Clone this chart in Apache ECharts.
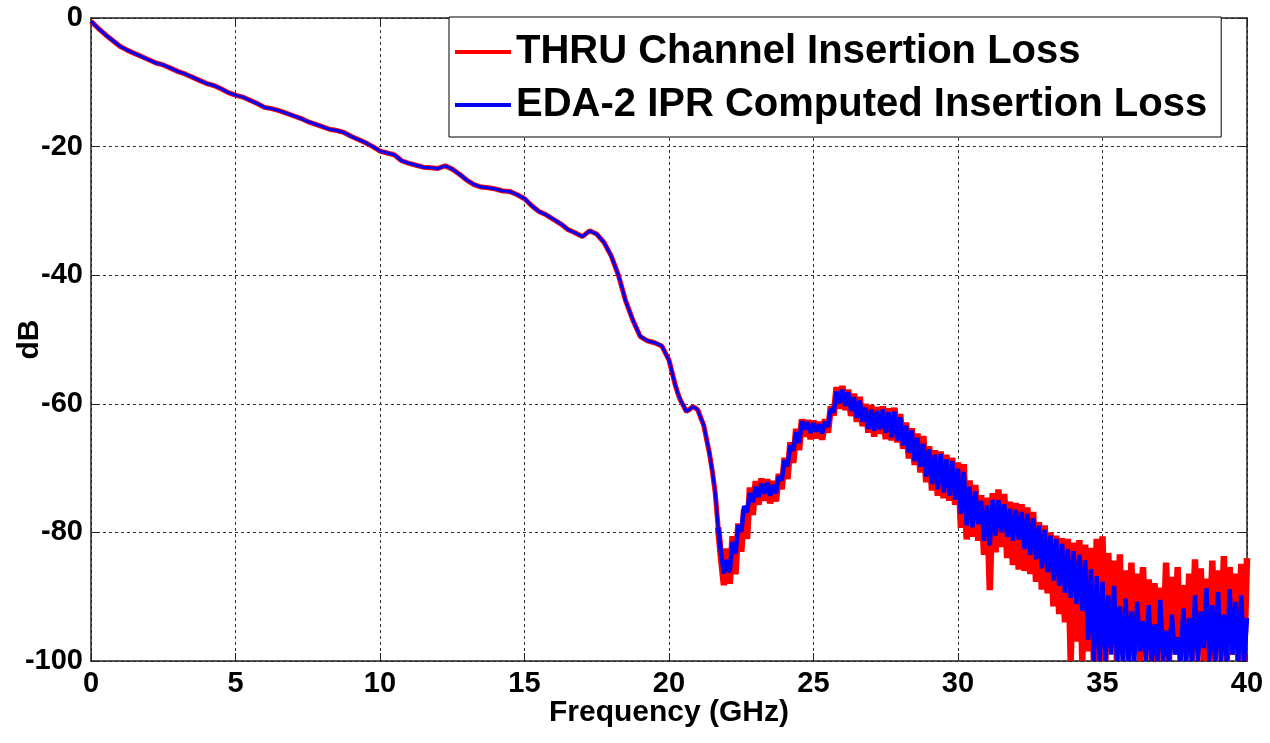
<!DOCTYPE html>
<html>
<head>
<meta charset="utf-8">
<script src="https://cdn.jsdelivr.net/npm/echarts@6/dist/echarts.min.js"></script>
<style>
  html, body { margin: 0; padding: 0; background: #fff; }
  #chart { width: 1270px; height: 743px; }
</style>
</head>
<body>
<div id="chart"></div>
<script>
// Insertion loss, 0 to 20 GHz every 0.25 GHz (both curves lie on top of each other here)
const lowStart = 0;
const lowStep = 0.25;
const lossLow = [
  -0.5, -1.6, -2.6, -3.5, -4.4, -5.0, -5.5, -6.0, -6.5, -7.0,
  -7.3, -7.8, -8.3, -8.7, -9.2, -9.7, -10.2, -10.5, -11.0, -11.6,
  -12.0, -12.3, -12.8, -13.3, -13.9, -14.1, -14.4, -14.8, -15.2, -15.6,
  -16.1, -16.5, -16.9, -17.3, -17.5, -17.8, -18.4, -18.9, -19.4, -20.0,
  -20.7, -21.0, -21.3, -22.2, -22.6, -22.9, -23.2, -23.3, -23.4, -23.0,
  -23.5, -24.3, -25.2, -25.9, -26.3, -26.4, -26.6, -26.9, -27.0, -27.5,
  -28.1, -29.2, -30.1, -30.6, -31.3, -32.0, -32.9, -33.4, -34.0, -33.1,
  -33.6, -34.9, -37.0, -40.0, -44.0, -47.0, -49.5, -50.2, -50.5, -51.0,
  -53.2
];

// 20 to 40 GHz every 0.1 GHz, read as alternating top / bottom of the noisy trace
const highStart = 20;
const highStep = 0.1;
const thruLoss = [
  -53.2, -55.0, -56.8, -58.3, -59.5, -60.3, -61.2, -60.9, -60.5, -60.6,
  -61.0, -62.2, -63.3, -65.5, -67.7, -70.5, -73.9, -79.2, -84.0, -88.2,
  -82.5, -88.0, -80.6, -86.5, -78.6, -83.0, -76.4, -81.0, -73.0, -77.3,
  -72.0, -75.7, -71.6, -75.1, -71.7, -75.5, -72.0, -75.2, -70.9, -73.3,
  -68.4, -71.7, -66.0, -69.2, -63.9, -67.2, -62.4, -65.1, -62.5, -65.5,
  -62.6, -65.4, -62.8, -65.6, -62.4, -64.5, -60.4, -61.8, -57.4, -60.8,
  -57.2, -61.0, -57.8, -61.9, -58.4, -62.8, -58.9, -63.5, -60.0, -64.5,
  -60.2, -65.1, -60.5, -64.7, -60.4, -65.5, -60.7, -65.7, -60.6, -66.0,
  -61.6, -67.0, -62.9, -68.5, -63.8, -69.5, -64.6, -70.7, -65.0, -72.2,
  -66.6, -73.5, -67.2, -74.3, -67.4, -74.7, -67.9, -75.1, -68.4, -75.7,
  -69.1, -79.3, -69.4, -81.1, -71.9, -80.7, -72.6, -81.3, -74.2, -83.5,
  -74.6, -89.0, -73.9, -83.1, -73.3, -82.3, -74.0, -84.0, -75.2, -85.1,
  -75.4, -85.8, -75.6, -86.0, -76.1, -86.5, -76.8, -87.7, -78.4, -88.9,
  -78.9, -89.5, -80.0, -91.5, -80.5, -92.7, -80.9, -94.0, -81.0, -100,
  -81.6, -97.0, -81.2, -100, -81.9, -98.5, -82.4, -100, -81.0, -100,
  -80.6, -100, -83.2, -97.5, -84.4, -100, -83.4, -99.0, -85.9, -100,
  -84.7, -98.5, -86.4, -100, -85.4, -98.0, -87.3, -100, -87.9, -100,
  -88.6, -98.5, -84.7, -100, -86.9, -97.5, -85.4, -100, -88.2, -99.0,
  -86.4, -100, -84.2, -98.5, -85.6, -100, -87.2, -98.0, -84.4, -100,
  -85.9, -98.5, -83.7, -100, -85.4, -99.0, -86.4, -100, -84.9, -100,
  -84.0
];
const edaLoss = [
  -53.2, -55.0, -56.8, -58.3, -59.5, -60.3, -61.2, -60.9, -60.5, -60.6,
  -61.0, -62.2, -63.3, -65.5, -67.7, -70.5, -73.9, -79.2, -83.2, -86.4,
  -84.3, -86.2, -81.5, -83.3, -78.9, -79.9, -75.9, -76.9, -73.9, -75.3,
  -72.9, -74.5, -72.4, -74.0, -72.2, -74.3, -72.6, -73.9, -71.3, -71.9,
  -68.8, -69.7, -66.5, -67.3, -64.4, -66.1, -62.7, -64.0, -62.9, -64.5,
  -63.0, -64.3, -63.2, -64.6, -62.8, -63.6, -60.8, -61.3, -58.1, -59.9,
  -57.8, -60.3, -58.2, -61.1, -59.0, -62.2, -59.5, -62.8, -60.6, -63.9,
  -60.9, -64.2, -61.1, -64.0, -60.9, -64.5, -61.3, -65.2, -61.2, -65.7,
  -62.1, -66.5, -63.4, -67.6, -64.1, -68.9, -65.3, -69.8, -66.2, -71.3,
  -67.1, -72.5, -67.9, -73.3, -67.8, -73.8, -68.6, -74.3, -68.9, -74.9,
  -70.1, -77.1, -70.6, -78.9, -72.9, -79.2, -73.6, -78.7, -75.1, -81.3,
  -75.8, -82.0, -74.9, -80.5, -75.0, -80.0, -75.6, -80.7, -76.3, -81.3,
  -76.5, -81.1, -76.8, -82.6, -77.1, -83.5, -77.8, -84.2, -78.9, -85.6,
  -79.6, -86.2, -80.5, -87.5, -81.0, -88.3, -81.8, -89.4, -82.6, -90.2,
  -82.9, -91.1, -83.5, -92.2, -84.3, -96.7, -85.7, -100, -86.8, -100,
  -87.7, -100, -89.8, -99.0, -88.3, -100, -91.5, -100, -90.3, -100,
  -92.3, -100, -90.8, -98.5, -93.8, -100, -91.3, -100, -94.3, -100,
  -90.5, -100, -95.3, -100, -92.8, -99.0, -96.3, -100, -91.8, -100,
  -93.3, -100, -89.8, -100, -92.3, -98.0, -88.7, -100, -91.3, -100,
  -89.3, -100, -92.8, -100, -88.8, -99.0, -90.8, -100, -89.8, -100,
  -93.3
];

const seriesNames = ['THRU Channel Insertion Loss', 'EDA-2 IPR Computed Insertion Loss'];
const xTicks = { min: 0, max: 40, interval: 5 };
const yTicks = { min: -100, max: 0, interval: 20 };
const noisyFrom = 17; // index in the 20-40 GHz lists where the trace turns into a noisy band (21.7 GHz)

// turn a start/step + values list into [freq, dB] pairs
function toPairs(start, step, vals) {
  return vals.map((v, i) => [+(start + i * step).toFixed(3), v]);
}

function splitTrace(high) {
  const all = toPairs(highStart, highStep, high);
  return {
    calm: toPairs(lowStart, lowStep, lossLow).concat(all.slice(1, noisyFrom + 1)),
    noisy: all.slice(noisyFrom)
  };
}

const thru = splitTrace(thruLoss);
const eda = splitTrace(edaLoss);

const font = '"Liberation Sans", Arial, sans-serif';
const gridLine = { show: true, lineStyle: { type: [3, 3], color: '#333', width: 1 } };
const frameLine = { show: true, onZero: false, lineStyle: { color: '#222', width: 1.5 } };
const innerTick = { show: true, inside: true, length: 8, lineStyle: { color: '#222' } };

function trace(name, data, color, width, z) {
  return {
    name: name,
    type: 'line',
    data: data,
    showSymbol: false,
    clip: true,
    color: color,
    lineStyle: { color: color, width: width, join: 'bevel' },
    z: z
  };
}

const chart = echarts.init(document.getElementById('chart'), null, { renderer: 'canvas' });

chart.setOption({
  animation: false,
  backgroundColor: '#fff',
  grid: { left: 91, right: 23, top: 18, bottom: 82, containLabel: false, outerBoundsMode: 'none' },
  legend: {
    data: seriesNames,
    orient: 'vertical',
    left: 449,
    top: 17,
    icon: 'rect',
    itemWidth: 56,
    itemHeight: 4,
    itemGap: 7,
    padding: [12, 14, 9, 6],
    backgroundColor: '#fff',
    borderColor: '#000',
    borderWidth: 1,
    textStyle: { fontFamily: font, fontSize: 40, fontWeight: 'bold', color: '#000', lineHeight: 46 }
  },
  xAxis: [
    {
      type: 'value', position: 'bottom', ...xTicks,
      name: 'Frequency (GHz)', nameLocation: 'middle', nameGap: 37, nameMoveOverlap: false,
      nameTextStyle: { fontFamily: font, fontSize: 30, fontWeight: 'bold', color: '#000' },
      axisLine: frameLine,
      axisTick: innerTick,
      axisLabel: { fontFamily: font, fontSize: 29, fontWeight: 'bold', color: '#000', margin: 8 },
      splitLine: gridLine
    },
    {
      type: 'value', position: 'top', ...xTicks,
      axisLine: frameLine,
      axisTick: innerTick,
      axisLabel: { show: false },
      splitLine: { show: false }
    }
  ],
  yAxis: [
    {
      type: 'value', position: 'left', ...yTicks,
      name: 'dB', nameLocation: 'middle', nameGap: 46, nameMoveOverlap: false,
      nameTextStyle: { fontFamily: font, fontSize: 30, fontWeight: 'bold', color: '#000' },
      axisLine: frameLine,
      axisTick: innerTick,
      axisLabel: { fontFamily: font, fontSize: 29, fontWeight: 'bold', color: '#000', margin: 8 },
      splitLine: gridLine
    },
    {
      type: 'value', position: 'right', ...yTicks,
      axisLine: frameLine,
      axisTick: innerTick,
      axisLabel: { show: false },
      splitLine: { show: false }
    }
  ],
  series: [
    trace(seriesNames[0], thru.calm, '#ff0000', 5, 2),
    trace(seriesNames[0], thru.noisy, '#ff0000', 6.5, 2),
    trace(seriesNames[1], eda.calm, '#0000ff', 3, 3),
    trace(seriesNames[1], eda.noisy, '#0000ff', 4.5, 3)
  ]
});

window.addEventListener('resize', () => chart.resize());
</script>
</body>
</html>
